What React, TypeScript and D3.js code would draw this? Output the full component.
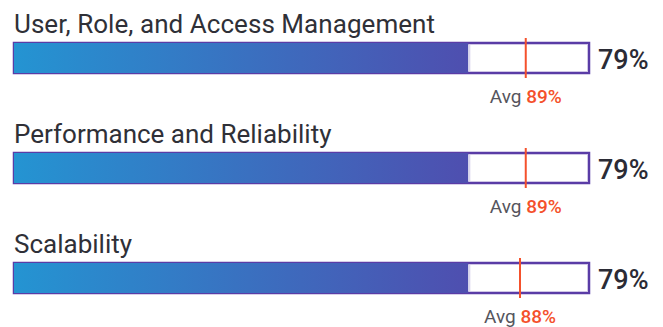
import React from 'react';
import * as d3 from 'd3';

const categories = ['User, Role, and Access Management', 'Performance and Reliability', 'Scalability'];
const scores = [79, 79, 79];
const averages = [89, 89, 88];

const width = 663;
const height = 327;
const barLeft = 14;
const barRight = 589;
const rowStep = 110;
const barTop = 43;
const barH = 30;

const App = () => {
    // percent -> pixel along bar
    const x = d3.scaleLinear().domain([0, 100]).range([barLeft, barRight]);
    const font = 'Roboto, sans-serif';

    return (
        <svg width={width} height={height} style={{position: 'absolute', left: 0, top: 0}}>
            <defs>
                <linearGradient id="barGrad" gradientUnits="userSpaceOnUse" x1={x(0)} x2={x(100)} y1={0} y2={0}>
                    <stop offset="0%" stopColor="#2494d2" />
                    <stop offset="100%" stopColor="#5a3ca6" />
                </linearGradient>
            </defs>
            {categories.map((cat, i) => {
                const y0 = barTop + i * rowStep;
                return (
                    <g key={cat}>
                        <text x={barLeft} y={y0 - 10} fontFamily={font} fontSize={26} fill="#2f3037" textLength={cat.length > 30 ? 421 : undefined}>
                            {cat}
                        </text>
                        <rect x={x(0)} y={y0} width={x(100) - x(0)} height={barH} fill="#fff" stroke="#5a3ca6" strokeWidth={2.5} />
                        <rect x={x(scores[i]) + 1.5} y={y0 + 1.5} width={x(100) - x(scores[i]) - 3} height={barH - 3} fill="none" stroke="#cfc6e6" strokeWidth={1} />
                        <rect x={x(0)} y={y0} width={x(scores[i]) - x(0)} height={barH} fill="url(#barGrad)" />
                        <line x1={x(averages[i])} x2={x(averages[i])} y1={y0 - 5} y2={y0 + barH + 5} stroke="#f4512c" strokeWidth={2} />
                        <text x={598} y={y0 + 26} fontFamily={font} fontSize={27} fontWeight={500} fill="#2b2b35">
                            {scores[i]}%
                        </text>
                        <text x={x(averages[i])} y={y0 + 60} textAnchor="middle" fontFamily={font} fontSize={19}>
                            <tspan fill="#55555d">Avg </tspan>
                            <tspan fill="#f4512c" fontWeight={500}>{averages[i]}%</tspan>
                        </text>
                    </g>
                );
            })}
        </svg>
    );
};

export default App;
